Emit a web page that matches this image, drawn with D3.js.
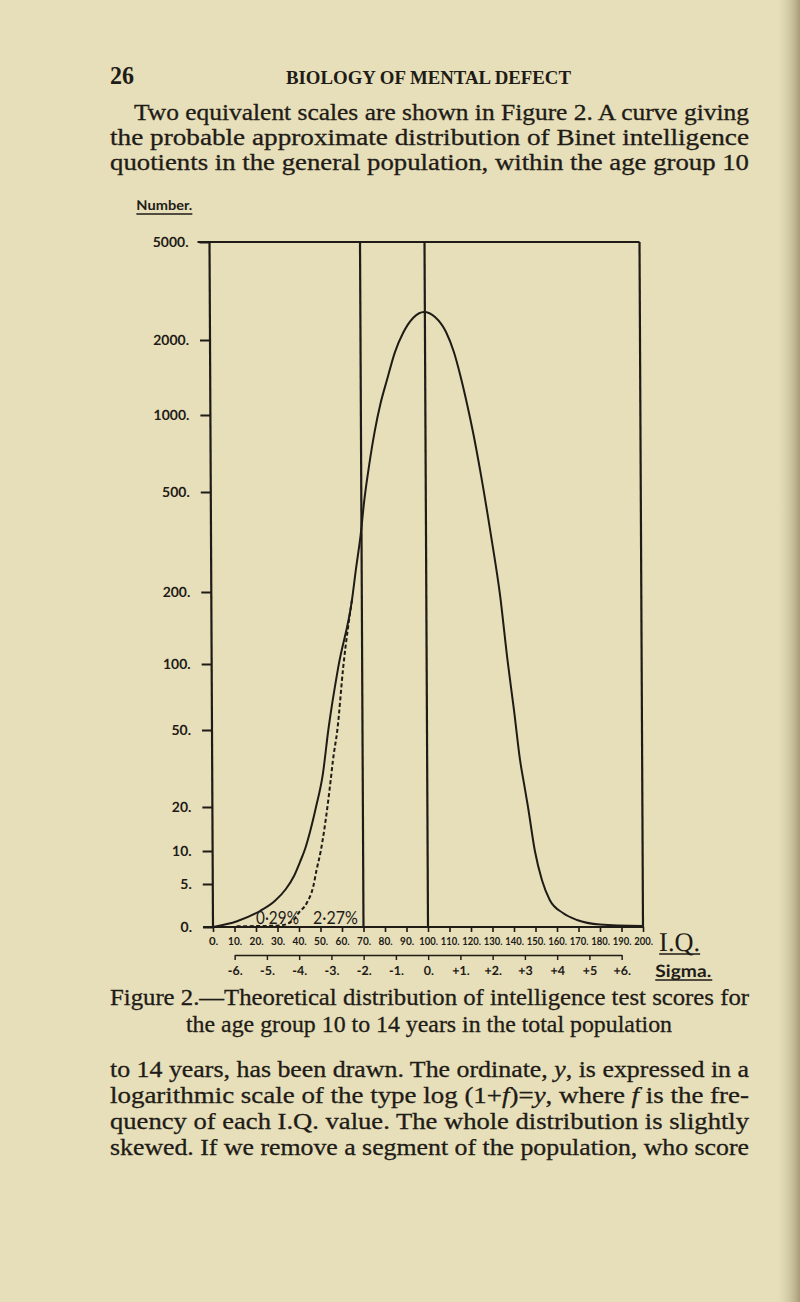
<!DOCTYPE html>
<html><head><meta charset="utf-8">
<script src="https://cdn.jsdelivr.net/npm/d3@7"></script>
<style>html,body{margin:0;padding:0;background:#e6dfba;} svg{display:block}</style>
</head><body><svg id="c" width="800" height="1302"></svg>
<script>
// ---------- data ----------
const pageNumber = "26";
const runningHead = "BIOLOGY OF MENTAL DEFECT";
const topLines = [
  [["Two equivalent scales are shown in Figure 2. A curve giving",0]],
  [["the probable approximate distribution of Binet intelligence",0]],
  [["quotients in the general population, within the age group 10",0]]
];
const captionLines = [
  "Figure 2.\u2014Theoretical distribution of intelligence test scores for",
  "the age group 10 to 14 years in the total population"
];
const bottomLines = [
  [["to 14 years, has been drawn. The ordinate, ",0],["y",1],[", is expressed in a",0]],
  [["logarithmic scale of the type log (1+",0],["f",1],[")=",0],["y",1],[", where ",0],["f",1],[" is the fre-",0]],
  [["quency of each I.Q. value. The whole distribution is slightly",0]],
  [["skewed. If we remove a segment of the population, who score",0]]
];
const yTitle = "Number.";
const yTicks = [0,5,10,20,50,100,200,500,1000,2000,5000];
const yTickLabels = ["0.","5.","10.","20.","50.","100.","200.","500.","1000.","2000.","5000."];
const iqTicks = [0,10,20,30,40,50,60,70,80,90,100,110,120,130,140,150,160,170,180,190,200];
const iqTickLabels = iqTicks.map(d => d + ".");
const sigmaTicks = [-6,-5,-4,-3,-2,-1,0,1,2,3,4,5,6];
const sigmaTickLabels = ["-6.","-5.","-4.","-3.","-2.","-1.","0.","+1.","+2.","+3","+4","+5","+6."];
const dividerIQ = [70,100];
// total population curve (solid): I.Q. and frequency
const curveIQ = [0,11.2,21.9,28.8,34.0,37.8,40.6,43.0,45.3,48.2,51.4,54.1,58.9,65.4,67.4,69.5,71.4,73.8,76.5,79.1,82.2,86.0,89.8,94.5,99.6,104.7,109.8,113.4,116.4,119.4,122.1,125.7,130.2,134.3,137.6,140.5,143.2,145.1,146.8,149.9,153.1,156.7,162.8,169.3,180,200];
const curveF  = [0,0.27,0.948,1.954,3.87,5.95,7.98,10.32,13.5,20,29.4,50,97,185,249,332,465,643,873,1107,1382,1789,2135,2457,2598,2480,2155,1789,1434,1107,858,583,337,194,104,61.8,35.1,26.1,20,10,5.46,2.08,0.79,0.34,0.11,0.04];
// alternative lower tail (dashed)
const dashIQ = [11,21.9,31.2,37.4,39.7,43.6,46.7,48.3,50.3,53.5,55.1,56.2,58.3,61.2,65.4];
const dashF  = [0.03,0.043,0.064,0.339,0.77,1.685,4.36,6.76,10,20,27.7,35.1,50,97,185];
const pctLabels = ["0\u00b729%","2\u00b727%"];
const pctAnchorIQ = [40,46.5];

// ---------- drawing ----------
const ink = "#1f1b16";
const serif = "'Liberation Serif','DejaVu Serif',serif";
const sans = "Lato,'Open Sans','DejaVu Sans',sans-serif";
const svg = d3.select("#c");

const defs = svg.append("defs");
const gr = defs.append("linearGradient").attr("id","edge").attr("x1","0").attr("x2","1");
gr.append("stop").attr("offset","0").attr("stop-color","#e6dfba").attr("stop-opacity",0);
gr.append("stop").attr("offset","1").attr("stop-color","#a89c78").attr("stop-opacity",1);
svg.append("rect").attr("width",800).attr("height",1302).attr("fill","#e6dfba");
svg.append("rect").attr("x",774).attr("width",26).attr("height",1302).attr("fill","url(#edge)");

function textLine(parent, segs, x, y, size, len, anchor) {
  const t = parent.append("text").attr("x",x).attr("y",y)
    .attr("font-family",serif).attr("font-size",size).attr("fill",ink)
    .attr("stroke",ink).attr("stroke-width",0.3);
  if (anchor) t.attr("text-anchor",anchor);
  segs.forEach(s => t.append("tspan").attr("font-style", s[1] ? "italic" : "normal").text(s[0]));
  if (len) t.attr("textLength",len).attr("lengthAdjust","spacingAndGlyphs");
  return t;
}

// running head
svg.append("text").attr("x",110).attr("y",84).attr("font-family",serif).attr("font-size",26)
  .attr("font-weight","bold").attr("fill",ink).attr("textLength",24).attr("lengthAdjust","spacingAndGlyphs").text(pageNumber);
svg.append("text").attr("x",286).attr("y",84).attr("font-family",serif).attr("font-size",18)
  .attr("font-weight","bold").attr("fill",ink).attr("textLength",285).attr("lengthAdjust","spacingAndGlyphs").text(runningHead);

textLine(svg, topLines[0], 134, 120, 22.5, 615);
textLine(svg, topLines[1], 110, 145, 22.5, 639);
textLine(svg, topLines[2], 110, 170, 22.5, 639);

textLine(svg, [[captionLines[0],0]], 110, 1005, 23.5, 639);
textLine(svg, [[captionLines[1],0]], 186, 1032, 23.5, 486);

bottomLines.forEach((l,i) => textLine(svg, l, 110, 1077 + i*26, 23, 639));

// chart group with slight scan skew
const tk = 0.0051;
const yBase = 927;
const g = svg.append("g")
  .attr("transform", `translate(${-tk*yBase},0) skewX(${Math.atan(tk)*180/Math.PI})`);

const x = d3.scaleLinear().domain([0,200]).range([213,643]);
const lg = v => Math.log10(1+v);
const y = d3.scaleLinear().domain(yTicks.map(lg))
  .range([927,884,851,807,730,664,592,492,415,340,242]);
const yf = f => y(lg(f));

// y axis
const yAx = g.append("g").attr("transform",`translate(${x(0)},0)`)
  .call(d3.axisLeft(y).tickValues(yTicks.map(lg)).tickFormat((d,i)=>yTickLabels[i]).tickSize(10).tickPadding(11));
yAx.select(".domain").remove();
yAx.selectAll("line").attr("stroke",ink).attr("stroke-width",2);
yAx.selectAll("text").attr("font-family",sans).attr("font-weight","bold").attr("font-size",14).attr("fill",ink).attr("dy","0.3em");

g.append("text").attr("x",140).attr("y",210).attr("font-family",sans).attr("font-weight","bold")
  .attr("font-size",13.5).attr("fill",ink).attr("textLength",56).attr("lengthAdjust","spacingAndGlyphs").text(yTitle);
g.append("line").attr("x1",140).attr("x2",196).attr("y1",214).attr("y2",214).attr("stroke",ink).attr("stroke-width",1.3);

// frame
const frame = g.append("g").attr("stroke",ink).attr("stroke-width",2.2).attr("fill","none");
frame.append("line").attr("x1",x(0)-12).attr("x2",x(200)).attr("y1",yf(5000)).attr("y2",yf(5000));
frame.append("line").attr("x1",x(0)).attr("x2",x(0)).attr("y1",yf(5000)).attr("y2",yf(0));
frame.append("line").attr("x1",x(200)).attr("x2",x(200)).attr("y1",yf(5000)).attr("y2",yf(0));
dividerIQ.forEach(v => frame.append("line").attr("x1",x(v)).attr("x2",x(v)).attr("y1",yf(5000)).attr("y2",yf(0)));

// x (I.Q.) axis
const xAx = g.append("g").attr("transform",`translate(0,${yf(0)})`)
  .call(d3.axisBottom(x).tickValues(iqTicks).tickFormat((d,i)=>iqTickLabels[i]).tickSize(5).tickPadding(5).tickSizeOuter(0));
xAx.select(".domain").attr("stroke",ink).attr("stroke-width",2.2).attr("d",`M${x(0)-10},0H${x(200)}`);
xAx.selectAll("line").attr("stroke",ink).attr("stroke-width",1.6);
xAx.selectAll("text").attr("font-family",sans).attr("font-weight","bold").attr("font-size",11).attr("fill",ink)
  .attr("textLength",(d,i)=>iqTickLabels[i].length*4.7).attr("lengthAdjust","spacingAndGlyphs");

// sigma axis
const sx = s => x(100 + 15*s);
const sAx = g.append("g").attr("transform","translate(0,955)")
  .call(d3.axisBottom(d3.scaleLinear().domain([-6,6]).range([sx(-6),sx(6)]))
    .tickValues(sigmaTicks).tickFormat((d,i)=>sigmaTickLabels[i]).tickSize(5).tickPadding(6).tickSizeOuter(0));
sAx.select(".domain").attr("stroke",ink).attr("stroke-width",1.6);
sAx.selectAll("line").attr("stroke",ink).attr("stroke-width",1.4);
sAx.selectAll("text").attr("font-family",sans).attr("font-weight","bold").attr("font-size",12.5).attr("fill",ink);

g.append("text").attr("x",659).attr("y",951).attr("font-family",serif).attr("font-size",27).attr("fill",ink)
  .attr("textLength",41).attr("lengthAdjust","spacingAndGlyphs").text("I.Q.");
g.append("line").attr("x1",659).attr("x2",700).attr("y1",954).attr("y2",954).attr("stroke",ink).attr("stroke-width",1.3);
g.append("text").attr("x",655).attr("y",977).attr("font-family",sans).attr("font-weight","bold").attr("font-size",17).attr("fill",ink)
  .attr("textLength",56).attr("lengthAdjust","spacingAndGlyphs").text("Sigma.");
g.append("line").attr("x1",655).attr("x2",712).attr("y1",980).attr("y2",980).attr("stroke",ink).attr("stroke-width",1.3);

// curves
const line = d3.line().x(d=>x(d[0])).y(d=>yf(d[1])).curve(d3.curveMonotoneX);
g.append("path").datum(curveIQ.map((v,i)=>[v,curveF[i]])).attr("d",line)
  .attr("fill","none").attr("stroke",ink).attr("stroke-width",2);
g.append("path").datum(dashIQ.map((v,i)=>[v,dashF[i]])).attr("d",line)
  .attr("fill","none").attr("stroke",ink).attr("stroke-width",2).attr("stroke-dasharray","4,2.5");

// percentage labels
g.append("text").attr("x",x(pctAnchorIQ[0])).attr("y",924).attr("text-anchor","end")
  .attr("font-family",sans).attr("font-size",18).attr("fill",ink)
  .attr("textLength",43).attr("lengthAdjust","spacingAndGlyphs").text(pctLabels[0]);
g.append("text").attr("x",x(pctAnchorIQ[1])).attr("y",924)
  .attr("font-family",sans).attr("font-size",18).attr("fill",ink)
  .attr("textLength",45).attr("lengthAdjust","spacingAndGlyphs").text(pctLabels[1]);
</script></body></html>
